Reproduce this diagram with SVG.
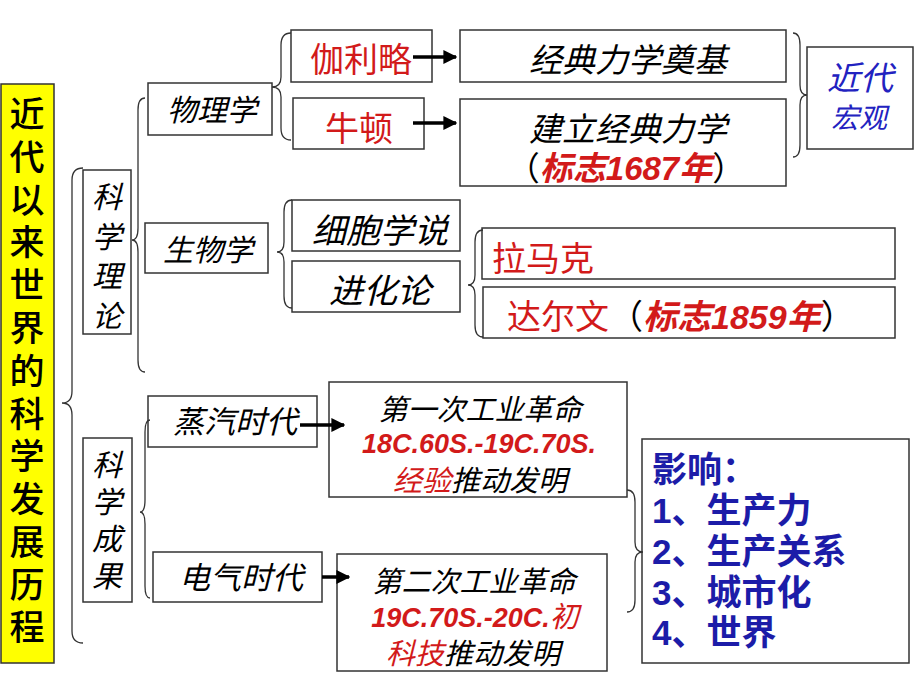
<svg xmlns="http://www.w3.org/2000/svg" width="920" height="690" viewBox="0 0 920 690">
<style>
.box{fill:#fff;stroke:#333;stroke-width:1.5}
.br{fill:none;stroke:#333;stroke-width:1.3}
.arr{stroke:#000;stroke-width:3.5;fill:none}
text{font-family:"Liberation Sans","Noto Sans CJK SC",sans-serif}
.it{font-style:italic}
.k{fill:#000}
.r{fill:#d21a1a}
.rb{fill:#d21a1a;font-weight:bold}
.b{fill:#2222c0}
.bb{fill:#1c1ca8;font-weight:bold}
</style>
<defs>
<marker id="ah" viewBox="0 0 10 10" refX="9" refY="5" markerWidth="4" markerHeight="4" markerUnits="strokeWidth" orient="auto">
<path d="M0,0 L10,5 L0,10 z" fill="#000"/>
</marker>
</defs>
<rect width="920" height="690" fill="#fff"/>

<g id="title">
<rect x="1" y="84" width="53" height="579" fill="#ffff00" stroke="#333" stroke-width="1.5"/>
<text class="k" font-size="35" text-anchor="middle" font-weight="500">
<tspan x="27" y="127">近</tspan><tspan x="27" y="170">代</tspan><tspan x="27" y="213">以</tspan><tspan x="27" y="255">来</tspan><tspan x="27" y="298">世</tspan><tspan x="27" y="341">界</tspan><tspan x="27" y="384">的</tspan><tspan x="27" y="427">科</tspan><tspan x="27" y="469">学</tspan><tspan x="27" y="512">发</tspan><tspan x="27" y="555">展</tspan><tspan x="27" y="598">历</tspan><tspan x="27" y="640">程</tspan>
</text>
</g>

<g id="kxll">
<rect class="box" x="83" y="170" width="48" height="164"/>
<text class="k it" font-size="30" text-anchor="middle"><tspan x="107" y="208">科</tspan><tspan x="107" y="248">学</tspan><tspan x="107" y="287">理</tspan><tspan x="107" y="327">论</tspan></text>
</g>
<g id="kxcg">
<rect class="box" x="83" y="438" width="49" height="164"/>
<text class="k it" font-size="30" text-anchor="middle"><tspan x="107" y="476">科</tspan><tspan x="107" y="513">学</tspan><tspan x="107" y="550">成</tspan><tspan x="107" y="587">果</tspan></text>
</g>

<g id="wlx">
<rect class="box" x="148" y="83" width="124" height="52"/>
<text class="k it" font-size="30" x="212" y="121" text-anchor="middle">物理学</text>
</g>
<g id="jll">
<rect class="box" x="291" y="30" width="141" height="52"/>
<text class="r" font-size="34" x="361" y="72" text-anchor="middle">伽利略</text>
</g>
<g id="nd">
<rect class="box" x="293" y="98" width="131" height="51"/>
<text class="r" font-size="34" x="359" y="141" text-anchor="middle">牛顿</text>
</g>
<g id="jdlxdj">
<rect class="box" x="460" y="30" width="326" height="52"/>
<text class="k it" font-size="33" x="628" y="72" text-anchor="middle">经典力学奠基</text>
</g>
<g id="jljdlx">
<rect class="box" x="460" y="99" width="326" height="87"/>
<text class="k it" font-size="33" x="628" y="141" text-anchor="middle">建立经典力学</text>
<text font-size="33" x="626" y="180" text-anchor="middle"><tspan class="k">（</tspan><tspan class="rb it">标志1687年</tspan><tspan class="k">）</tspan></text>
</g>
<g id="jdhg">
<rect class="box" x="807" y="47" width="106" height="102"/>
<text class="b it" font-size="33" x="860" y="90" text-anchor="middle">近代</text>
<text class="b it" font-size="28" x="859" y="128" text-anchor="middle">宏观</text>
</g>

<g id="swx">
<rect class="box" x="145" y="223" width="123" height="50"/>
<text class="k it" font-size="30" x="208" y="261" text-anchor="middle">生物学</text>
</g>
<g id="xbxs">
<rect class="box" x="292" y="200" width="168" height="51"/>
<text class="k it" font-size="34" x="380" y="243" text-anchor="middle">细胞学说</text>
</g>
<g id="jhl">
<rect class="box" x="292" y="261" width="168" height="51"/>
<text class="k it" font-size="34" x="380" y="303" text-anchor="middle">进化论</text>
</g>
<g id="lmk">
<rect class="box" x="482" y="228" width="413" height="51"/>
<text class="r" font-size="34" x="492" y="271">拉马克</text>
</g>
<g id="dew">
<rect class="box" x="483" y="287" width="412" height="51"/>
<text font-size="34" x="507" y="329"><tspan class="r">达尔文</tspan><tspan class="k">（</tspan><tspan class="rb it">标志1859年</tspan><tspan class="k">）</tspan></text>
</g>

<g id="zqsd">
<rect class="box" x="148" y="396" width="169" height="51"/>
<text class="k it" font-size="31" x="235" y="433" text-anchor="middle">蒸汽时代</text>
</g>
<g id="dysd">
<rect class="box" x="153" y="552" width="169" height="50"/>
<text class="k it" font-size="31" x="241" y="589" text-anchor="middle">电气时代</text>
</g>
<g id="gy1">
<rect class="box" x="329" y="382" width="298" height="115"/>
<text class="k it" font-size="29" x="480" y="420" text-anchor="middle">第一次工业革命</text>
<text class="rb it" font-size="27" x="479" y="453" text-anchor="middle">18C.60S.-19C.70S.</text>
<text font-size="29" x="480" y="491" text-anchor="middle"><tspan class="r it">经验</tspan><tspan class="k it">推动发明</tspan></text>
</g>
<g id="gy2">
<rect class="box" x="337" y="554" width="270" height="117"/>
<text class="k it" font-size="29" x="474" y="592" text-anchor="middle">第二次工业革命</text>
<text font-size="27" x="475" y="627" text-anchor="middle"><tspan class="rb it">19C.70S.-20C.</tspan><tspan class="r it" font-size="29">初</tspan></text>
<text font-size="29" x="473" y="664" text-anchor="middle"><tspan class="r it">科技</tspan><tspan class="k it">推动发明</tspan></text>
</g>
<g id="yx">
<rect class="box" x="642" y="439" width="267" height="224"/>
<text class="bb" font-size="35" x="652" y="482">影响：</text>
<text class="bb" font-size="35" x="652" y="523">1、生产力</text>
<text class="bb" font-size="35" x="652" y="564">2、生产关系</text>
<text class="bb" font-size="35" x="652" y="605">3、城市化</text>
<text class="bb" font-size="35" x="652" y="645">4、世界</text>
</g>

<g id="connectors">
<path class="br" d="M83,168 Q72,168 72,180 L72,391 Q72,403 62,403 Q72,403 72,415 L72,631 Q72,643 83,643"/>
<path class="br" d="M145,98 Q138,98 138,110 L138,228 Q138,240 132,240 Q138,240 138,252 L138,360 Q138,372 145,372"/>
<path class="br" d="M150,420 Q145,420 145,432 L145,500 Q145,512 140,512 Q145,512 145,524 L145,586 Q145,598 150,598"/>
<path class="br" d="M291,33 Q281,33 281,45 L281,77 Q281,87 272,87 Q281,87 281,97 L281,128 Q281,140 291,140"/>
<path class="br" d="M292,200 Q284,200 284,212 L284,242 Q284,252 277,252 Q284,252 284,262 L284,296 Q284,308 292,308"/>
<path class="br" d="M483,230 Q475,230 475,242 L475,275 Q475,285 468,285 Q475,285 475,295 L475,325 Q475,337 483,337"/>
<path class="br" d="M793,33 Q800,33 800,45 L800,85 Q800,95 807,95 Q800,95 800,105 L800,145 Q800,157 793,157"/>
<path class="br" d="M627,490 Q635,490 635,502 L635,542 Q635,552 643,552 Q635,552 635,562 L635,600 Q635,612 627,612"/>
<line class="arr" x1="413" y1="57" x2="456" y2="57" marker-end="url(#ah)"/>
<line class="arr" x1="413" y1="123" x2="456" y2="123" marker-end="url(#ah)"/>
<line class="arr" x1="300" y1="425" x2="344" y2="425" marker-end="url(#ah)"/>
<line class="arr" x1="322" y1="577" x2="349" y2="577" marker-end="url(#ah)"/>
</g>
</svg>
